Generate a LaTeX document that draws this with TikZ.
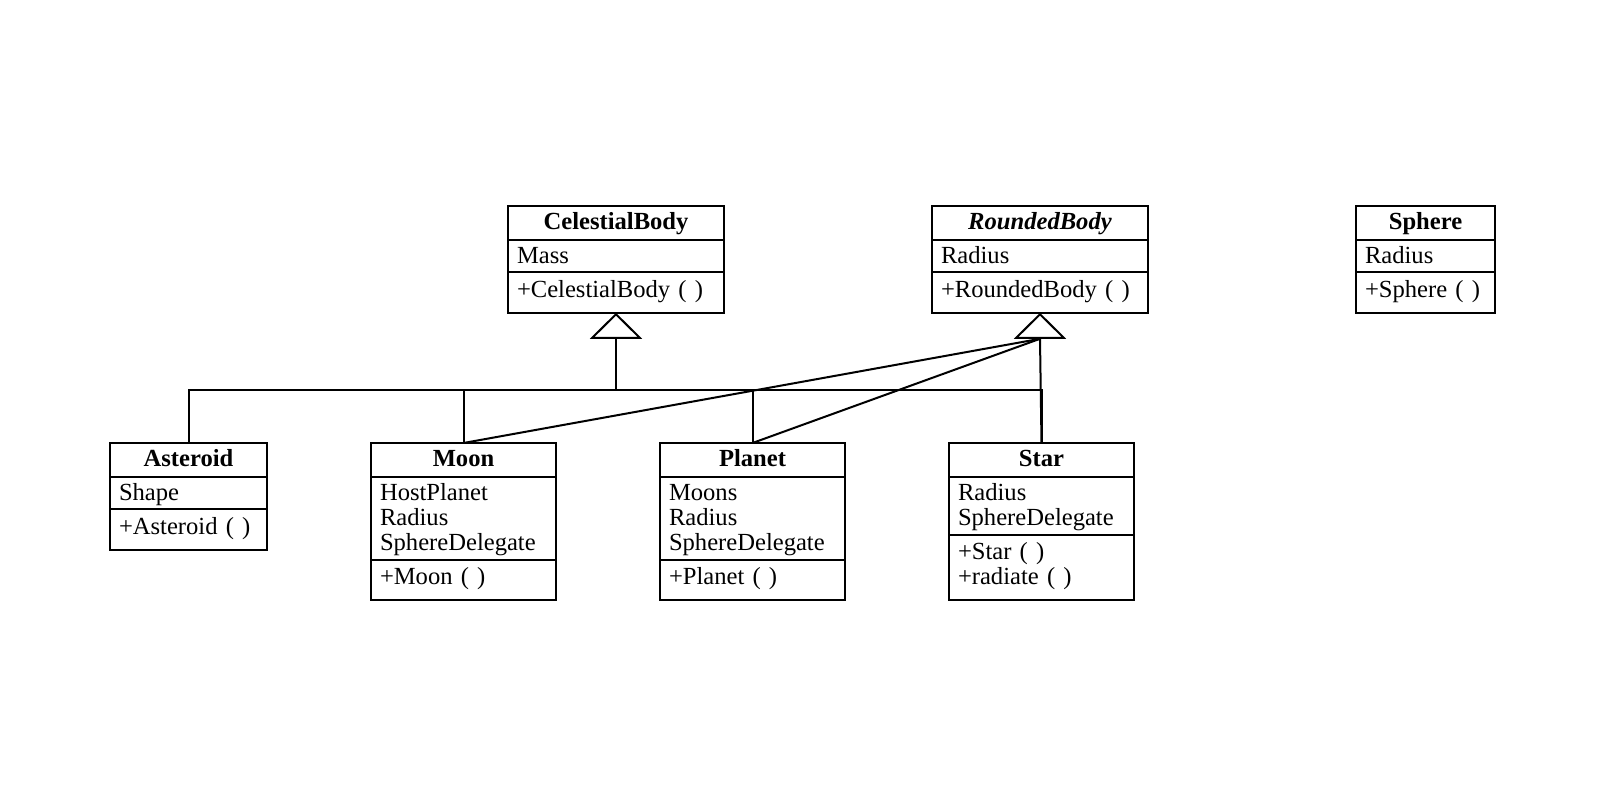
\documentclass[tikz,border=0pt]{standalone}
\usepackage{fontspec}
\setmainfont{Liberation Serif}
\usepackage{tikz}
\usetikzlibrary{positioning, shapes.multipart, arrows.meta}
\newcommand{\classTitle}[1]{\makebox[\linewidth]{\rule{0pt}{10pt}\textbf{#1}\rule[-3pt]{0pt}{0pt}}}
\newcommand{\classAttrs}[1]{\rule{0pt}{10pt}#1\rule[-2.5pt]{0pt}{0pt}}
\newcommand{\classOps}[1]{\rule{0pt}{10.5pt}#1\rule[-6pt]{0pt}{0pt}}

\begin{document}
\begin{tikzpicture}[x=0.5pt, y=-0.5pt,
    umlclass/.style={draw, line width=1pt, rectangle split, rectangle split parts=3,
      inner xsep=4.5pt, inner ysep=1.4pt, outer sep=0pt, align=left,
      font=\fontsize{12.3}{12.5}\selectfont},
    link/.style={line width=1pt},
    inherit/.style={line width=1pt, -{Triangle[open, length=13pt, width=26pt]}}]
  \useasboundingbox (0,0) rectangle (1618,808);

  % parents
  \node[umlclass, text width=99pt, anchor=north west] (cbody) at (508,206) {%
    \classTitle{CelestialBody}
    \nodepart{second}\classAttrs{Mass}
    \nodepart{third}\classOps{+CelestialBody ( )}};
  \node[umlclass, text width=99pt, right=104pt of cbody.north east, anchor=north west] (rbody) {%
    \classTitle{\textit{RoundedBody}}
    \nodepart{second}\classAttrs{Radius}
    \nodepart{third}\classOps{+RoundedBody ( )}};
  \node[umlclass, text width=60.5pt, right=104pt of rbody.north east, anchor=north west] (sphere) {%
    \classTitle{Sphere}
    \nodepart{second}\classAttrs{Radius}
    \nodepart{third}\classOps{+Sphere ( )}};

  % children
  \node[umlclass, text width=69.5pt, anchor=north west] (asteroid) at (110,443) {%
    \classTitle{Asteroid}
    \nodepart{second}\classAttrs{Shape}
    \nodepart{third}\classOps{+Asteroid ( )}};
  \node[umlclass, text width=83.5pt, right=52pt of asteroid.north east, anchor=north west] (moon) {%
    \classTitle{Moon}
    \nodepart{second}\classAttrs{HostPlanet\\Radius\\SphereDelegate}
    \nodepart{third}\classOps{+Moon ( )}};
  \node[umlclass, text width=83.5pt, right=52pt of moon.north east, anchor=north west] (planet) {%
    \classTitle{Planet}
    \nodepart{second}\classAttrs{Moons\\Radius\\SphereDelegate}
    \nodepart{third}\classOps{+Planet ( )}};
  \node[umlclass, text width=83.5pt, right=52pt of planet.north east, anchor=north west] (star) {%
    \classTitle{Star}
    \nodepart{second}\classAttrs{Radius\\SphereDelegate}
    \nodepart{third}\classOps{+Star ( )\\+radiate ( )}};

  % generalisations
  \coordinate (bus) at ([yshift=-38.5pt]cbody.south);
  \coordinate (rbase) at ([yshift=-13pt]rbody.south);
  \draw[inherit] (bus) -- (cbody.south);
  \draw[link] (asteroid.north) |- (bus) -| (star.north);
  \draw[link] (moon.north) -- (moon.north |- bus);
  \draw[link] (planet.north) -- (planet.north |- bus);
  \draw[inherit] (rbase) -- (rbody.south);
  \foreach \child in {moon, planet, star}
    \draw[link] (\child.north) -- (rbase);
\end{tikzpicture}
\end{document}
